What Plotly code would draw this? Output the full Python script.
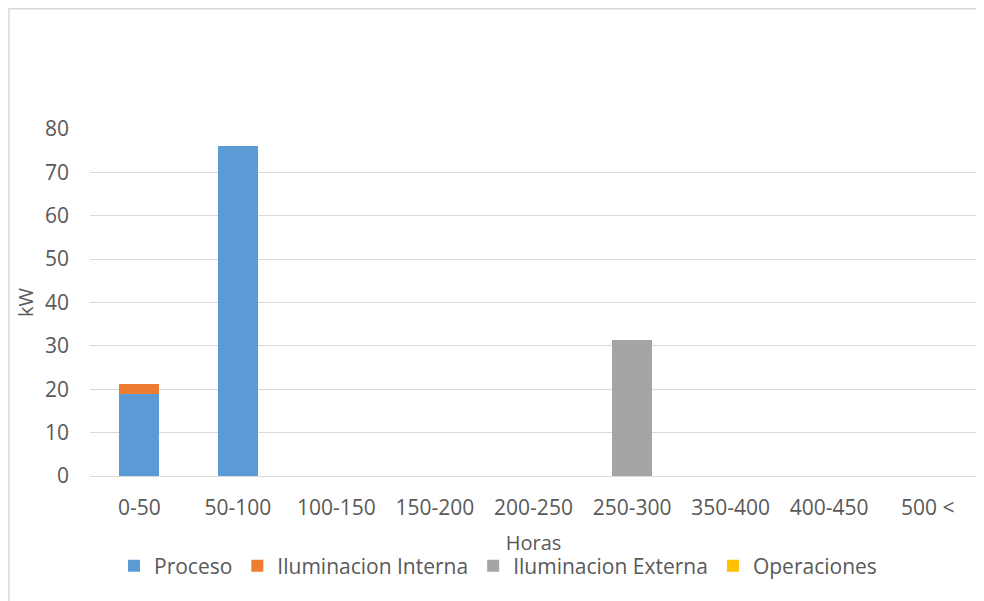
import plotly.graph_objects as go

categories = ["0-50", "50-100", "100-150", "150-200", "200-250", "250-300", "350-400", "400-450", "500 <"]
proceso = [19, 76, 0, 0, 0, 0, 0, 0, 0]
ilum_interna = [2.3, 0, 0, 0, 0, 0, 0, 0, 0]
ilum_externa = [0, 0, 0, 0, 0, 31.4, 0, 0, 0]
operaciones = [0, 0, 0, 0, 0, 0, 0, 0, 0]

series = [
    ("Proceso", proceso, "#5b9bd5"),
    ("Iluminacion Interna", ilum_interna, "#ed7d31"),
    ("Iluminacion Externa", ilum_externa, "#a5a5a5"),
    ("Operaciones", operaciones, "#ffc000"),
]

font_family = "Open Sans, Liberation Sans, sans-serif"
text_color = "#595959"

# page keeps its 8px body margin; the figure runs to the window's right and bottom edges
W, H = 976, 593
L, R, T, B = 82, 7, 121, 125
pw, ph = W - L - R, H - T - B

fig = go.Figure()
for name, vals, color in series:
    fig.add_trace(go.Bar(name=name, x=categories, y=vals,
                         marker=dict(color=color, line=dict(width=0))))

fig.update_layout(
    barmode="stack",
    bargap=0.59,
    width=W,
    height=H,
    paper_bgcolor="white",
    plot_bgcolor="white",
    margin=dict(l=L, r=R, t=T, b=B, autoexpand=False),
    font=dict(family=font_family, size=21, color=text_color),
    xaxis=dict(
        title=dict(text="Horas", font=dict(size=20, color=text_color), standoff=15),
        showgrid=False,
        showline=True,
        linecolor="#d9d9d9",
        linewidth=1,
        ticks="",
        tickfont=dict(size=21),
        ticklabelstandoff=13,
        automargin=False,
    ),
    yaxis=dict(
        title=dict(text="kW", font=dict(size=20, color=text_color), standoff=5),
        range=[0, 80],
        dtick=10,
        showgrid=True,
        gridcolor="#d9d9d9",
        gridwidth=1,
        zeroline=False,
        ticks="",
        tickfont=dict(size=21),
        ticklabelstandoff=20,
        automargin=False,
    ),
    legend=dict(
        orientation="h",
        x=(490 - L) / pw,
        xanchor="center",
        y=-69.5 / ph,
        yanchor="top",
        font=dict(size=21, color=text_color),
        traceorder="normal",
        itemwidth=30,
    ),
)

# chart-area border: only its left and top edges fall inside the picture
fig.add_shape(type="rect", xref="paper", yref="paper",
              x0=-(L - 1) / pw, x1=1 + (R + 20) / pw,
              y0=-(B + 20) / ph, y1=1 + (T - 0.75) / ph,
              line=dict(color="#d9d9d9", width=1.5), layer="below")

fig.write_html(
    "out.html",
    post_script=(
        "document.body.style.overflow='hidden';"
        "document.documentElement.style.overflow='hidden';"
        "var st=document.createElement('style');"
        "st.textContent='::-webkit-scrollbar{display:none;width:0;height:0}"
        "html,body{scrollbar-width:none}';"
        "document.head.appendChild(st);"
    ),
)
